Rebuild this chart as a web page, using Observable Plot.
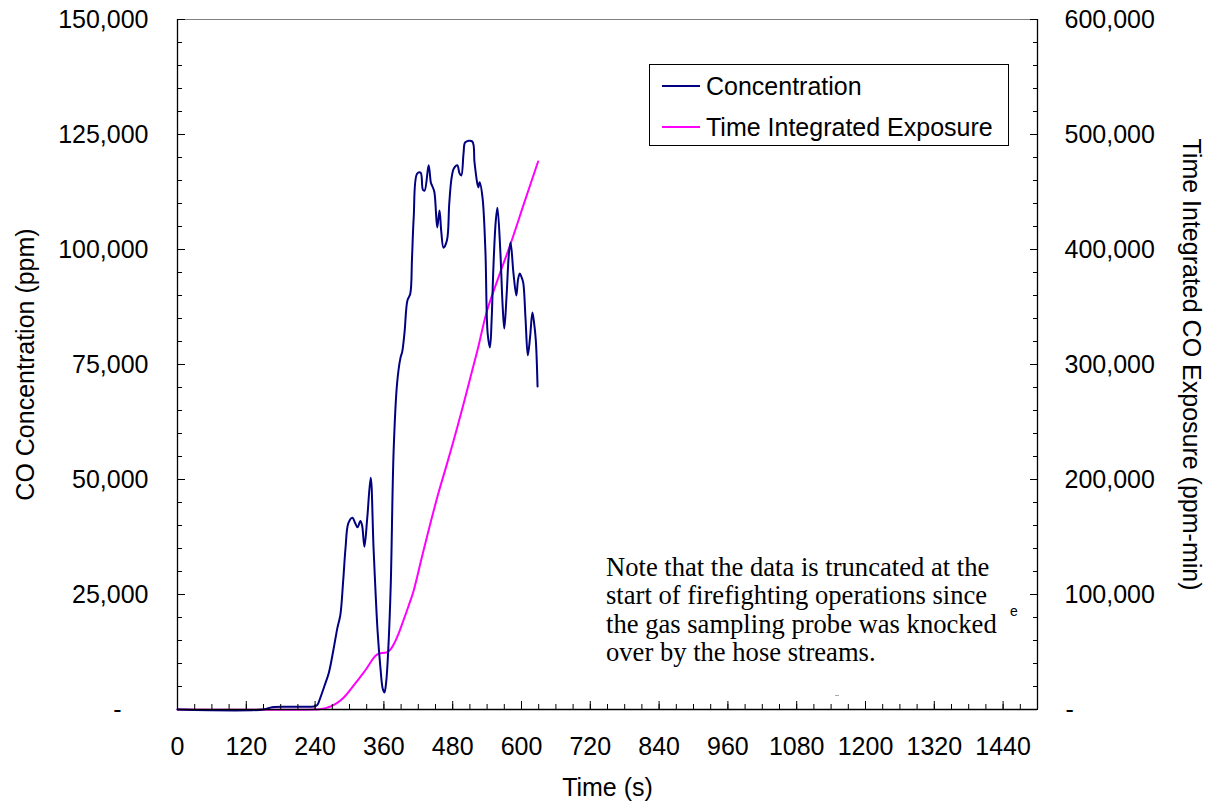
<!DOCTYPE html>
<html>
<head>
<meta charset="utf-8">
<script src="https://cdn.jsdelivr.net/npm/d3@7"></script>
<script src="https://cdn.jsdelivr.net/npm/@observablehq/plot@0.6"></script>
<style>
  html, body { margin: 0; padding: 0; background: #fff; }
  #wrap { position: relative; width: 1207px; height: 803px; font-family: "Liberation Sans", Arial, sans-serif; color: #000; }
  #wrap svg { position: absolute; left: 0; top: 0; }
  .legend { position: absolute; left: 649px; top: 64px; width: 358px; height: 80px; border: 1px solid #000; background: #fff; }
  .legend .row { position: absolute; left: 0; height: 30px; display: flex; align-items: center; font-size: 25px; white-space: nowrap; }
  .legend .sw { display: inline-block; width: 38px; height: 2px; margin-left: 12px; margin-right: 6px; }
  .note { position: absolute; left: 606px; top: 553px; font-family: "Liberation Serif", "Times New Roman", serif; font-size: 26.6px; line-height: 28.3px; white-space: nowrap; background: #fff; }
  .frag { position: absolute; left: 1010px; top: 604px; font-size: 14px; line-height: 14px; color: #000; }
  .dash { position: absolute; left: 835px; top: 695px; width: 4px; height: 1px; background: #aaa; }
</style>
</head>
<body>
<div id="wrap"></div>
<script>
// ---- data ----
const seriesNames = ["Concentration", "Time Integrated Exposure"];
const seriesColors = ["#000080", "#ff00ff"];

// CO concentration (ppm) vs time (s)
const concTime = [0, 150, 165, 200, 240, 244, 249, 256, 264, 272, 279, 284, 289, 293, 298, 305, 310, 314, 319, 322, 326, 331, 337, 342, 349, 354, 358, 361, 364, 368, 372, 377, 383, 389, 392, 396, 401, 406, 409, 412, 418, 424, 428, 431, 438, 442, 444, 448, 453, 457, 460, 464, 470, 474, 478, 482, 488, 492, 495, 499, 502, 514, 518, 523, 525, 527, 532, 537, 541, 545, 548, 551, 555, 558, 563, 567, 570, 574, 578, 581, 586, 591, 594, 597, 600, 603, 607, 611, 615, 619, 622, 625, 628];
const concValue = [0, 0, 500, 600, 700, 1000, 2500, 5000, 8000, 13000, 17800, 20500, 28000, 35000, 40500, 41700, 40500, 39600, 41000, 40000, 35400, 41700, 50400, 35000, 17000, 9000, 4500, 3700, 6000, 14000, 27400, 56300, 70900, 76500, 77800, 82000, 88900, 90400, 98000, 107000, 116500, 116700, 113000, 112800, 118300, 114500, 113900, 112500, 104800, 108500, 104000, 100400, 102000, 110000, 115500, 117600, 118300, 116500, 116100, 121000, 123300, 123500, 119000, 114300, 113500, 114600, 111300, 99800, 81700, 78700, 85000, 96100, 106000, 109100, 99800, 88000, 82800, 90000, 99000, 101500, 94800, 90000, 93500, 94800, 94000, 92800, 85000, 77000, 81000, 86300, 84000, 80200, 70200];

// Time integrated CO exposure (ppm-min) vs time (s)
const expTime = [0, 240, 248, 258, 267, 278, 290, 302, 314, 323, 331, 338, 345, 352, 360, 366, 372, 378, 386, 394, 403, 412, 426, 441, 455, 470, 485, 499, 510, 523, 540, 560, 581, 605, 629];
const expValue = [0, 0, 300, 1200, 2600, 5500, 10400, 17500, 25200, 31000, 36500, 42000, 46500, 48800, 49300, 49800, 52500, 57500, 66500, 77400, 90000, 103500, 132000, 161700, 188000, 213600, 240000, 265800, 287000, 312000, 347000, 376000, 405000, 441000, 476500];

// axes
const xMajorTicks = [0, 120, 240, 360, 480, 600, 720, 840, 960, 1080, 1200, 1320, 1440];
const xMinorTicks = d3.range(0, 1501, 30);
const yLeftMajor = [25000, 50000, 75000, 100000, 125000, 150000];
const yLeftMinor = d3.range(0, 150001, 5000);
const rightFactor = 4; // right axis = 4 x left axis
const yRightMajor = [100000, 200000, 300000, 400000, 500000, 600000];

const xLabel = "Time (s)";
const yLeftLabel = "CO Concentration (ppm)";
const yRightLabel = "Time Integrated CO Exposure (ppm-min)";
const noteLines = ["Note that the data is truncated at the", "start of firefighting operations since", "the gas sampling probe was knocked", "over by the hose streams."];

// ---- build ----
const conc = concTime.map((t, i) => ({t, v: concValue[i]}));
const expo = expTime.map((t, i) => ({t, v: expValue[i] / rightFactor}));
const fmt = d3.format(",");

const chart = Plot.plot({
  width: 1207,
  height: 803,
  marginTop: 19,
  marginBottom: 94,
  marginLeft: 177,
  marginRight: 170,
  style: {fontFamily: "'Liberation Sans', Arial, sans-serif", fontSize: "25px", color: "#000", background: "transparent"},
  x: {domain: [0, 1500]},
  y: {domain: [0, 150000]},
  marks: [
    Plot.ruleY([150000], {stroke: "#808080", strokeWidth: 1}),
    Plot.lineY(expo, {x: "t", y: "v", stroke: seriesColors[1], strokeWidth: 2, curve: "catmull-rom"}),
    Plot.lineY(conc, {x: "t", y: "v", stroke: seriesColors[0], strokeWidth: 2, curve: "catmull-rom"}),
    Plot.ruleX([0], {stroke: "#000", strokeWidth: 1.3}),
    Plot.ruleX([1500], {stroke: "#000", strokeWidth: 1.3}),
    Plot.ruleY([0], {stroke: "#000", strokeWidth: 1.3}),
    // x axis: inward ticks + labels
    Plot.axisX(xMinorTicks, {anchor: "bottom", tickSize: 5, dy: -5, fill: null, label: null}),
    Plot.axisX(xMajorTicks, {anchor: "bottom", tickSize: 8, dy: -8, fill: null, label: null}),
    Plot.axisX(xMajorTicks, {anchor: "bottom", tickSize: 0, tickPadding: 28, tickFormat: d => String(d), label: null}),
    // left axis
    Plot.axisY(yLeftMinor, {anchor: "left", tickSize: 5, dx: 5, fill: null, label: null}),
    Plot.axisY(yLeftMajor, {anchor: "left", tickSize: 8, dx: 8, fill: null, label: null}),
    Plot.axisY(yLeftMajor, {anchor: "left", tickSize: 0, tickPadding: 29, tickFormat: fmt, label: null}),
    Plot.axisY([0], {anchor: "left", tickSize: 0, tickPadding: 56, tickFormat: () => "-", label: null}),
    // right axis
    Plot.axisY(yLeftMinor, {anchor: "right", tickSize: 5, dx: -5, fill: null, label: null}),
    Plot.axisY(yLeftMajor, {anchor: "right", tickSize: 8, dx: -8, fill: null, label: null}),
    Plot.axisY(yRightMajor.map(d => d / rightFactor), {anchor: "right", tickSize: 0, tickPadding: 27, tickFormat: d => fmt(d * rightFactor), label: null}),
    Plot.axisY([0], {anchor: "right", tickSize: 0, tickPadding: 28, tickFormat: () => "-", label: null}),
    // titles
    Plot.text([xLabel], {frameAnchor: "bottom", textAnchor: "middle", lineAnchor: "middle", dy: 78, fontSize: 25}),
    Plot.text([yLeftLabel], {frameAnchor: "left", textAnchor: "middle", lineAnchor: "middle", rotate: -90, dx: -152, fontSize: 25}),
    Plot.text([yRightLabel], {frameAnchor: "right", textAnchor: "middle", lineAnchor: "middle", rotate: 90, dx: 153, fontSize: 25})
  ]
});

const wrap = document.getElementById("wrap");
wrap.appendChild(chart);

// legend (inside plot area)
const legend = document.createElement("div");
legend.className = "legend";
seriesNames.forEach((name, i) => {
  const row = document.createElement("div");
  row.className = "row";
  row.style.top = (6 + i * 41) + "px";
  const sw = document.createElement("span");
  sw.className = "sw";
  sw.style.background = seriesColors[i];
  row.appendChild(sw);
  row.appendChild(document.createTextNode(name));
  legend.appendChild(row);
});
wrap.appendChild(legend);

// stray fragments visible in the reference
const frag = document.createElement("div");
frag.className = "frag";
frag.textContent = "e";
wrap.appendChild(frag);
const dash = document.createElement("div");
dash.className = "dash";
wrap.appendChild(dash);

// note
const note = document.createElement("div");
note.className = "note";
note.innerHTML = noteLines.join("<br>");
wrap.appendChild(note);
</script>
</body>
</html>
